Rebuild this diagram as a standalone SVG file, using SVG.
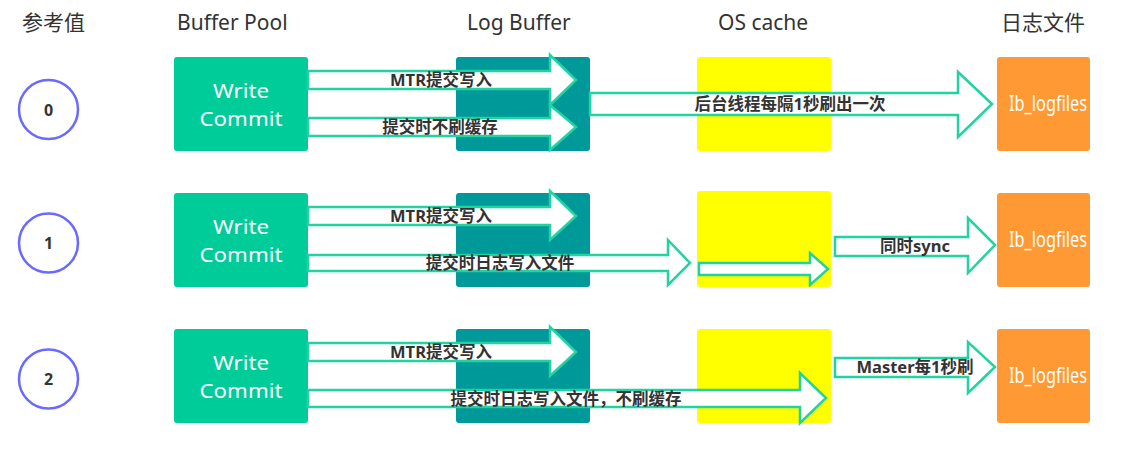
<svg xmlns="http://www.w3.org/2000/svg" width="1145" height="449" viewBox="0 0 1145 449">
<style>
.hdr{font-family:"Noto Sans","Noto Sans CJK SC",sans-serif;font-size:21px;fill:#333}
.wc{fill:#00cc99}
.lb{fill:#009999}
.os{fill:#ffff00}
.lf{fill:#ff9933}
.wt{font-family:"Noto Sans","Noto Sans CJK SC",sans-serif;font-size:20px;fill:#fff;text-anchor:middle}
.lt{font-family:"Noto Sans",sans-serif;font-size:22px;fill:#fff}
.arr{fill:#fff;stroke:#22d3a2;stroke-width:2.5;stroke-linejoin:miter}
.al{font-family:"Noto Sans","Noto Sans CJK SC",sans-serif;font-size:16.5px;font-weight:bold;fill:#333;text-anchor:middle}
.cir{fill:#fff;stroke:#6a6aff;stroke-width:2.5}
.num{font-family:"Noto Sans",sans-serif;font-size:16px;font-weight:bold;fill:#333;text-anchor:middle}
</style>
<rect width="1145" height="449" fill="#fff"/>
<g id="headers">
<text class="hdr" x="22" y="30">参考值</text>
<text class="hdr" x="177" y="30">Buffer Pool</text>
<text class="hdr" x="467" y="30">Log Buffer</text>
<text class="hdr" x="718" y="30">OS cache</text>
<text class="hdr" x="1001" y="30">日志文件</text>
</g>
<g id="level0"><circle class="cir" cx="48.5" cy="109.5" r="29.5"/><text class="num" x="48.5" y="115.5">0</text></g>
<g id="level1"><circle class="cir" cx="48.5" cy="243" r="29.5"/><text class="num" x="48.5" y="249">1</text></g>
<g id="level2"><circle class="cir" cx="48.5" cy="379" r="29.5"/><text class="num" x="48.5" y="385">2</text></g>

<g id="bp0"><rect class="wc" x="174" y="57" width="134" height="94" rx="3"/><text class="wt" x="241" y="98" textLength="56" lengthAdjust="spacingAndGlyphs">Write</text><text class="wt" x="241" y="126" textLength="83" lengthAdjust="spacingAndGlyphs">Commit</text></g>
<g id="bp1"><rect class="wc" x="174" y="193" width="134" height="94" rx="3"/><text class="wt" x="241" y="234" textLength="56" lengthAdjust="spacingAndGlyphs">Write</text><text class="wt" x="241" y="262" textLength="83" lengthAdjust="spacingAndGlyphs">Commit</text></g>
<g id="bp2"><rect class="wc" x="174" y="329" width="134" height="94" rx="3"/><text class="wt" x="241" y="370" textLength="56" lengthAdjust="spacingAndGlyphs">Write</text><text class="wt" x="241" y="398" textLength="83" lengthAdjust="spacingAndGlyphs">Commit</text></g>

<g id="lb0"><rect class="lb" x="456" y="57" width="134" height="94" rx="3"/></g>
<g id="lb1"><rect class="lb" x="456" y="193" width="134" height="94" rx="3"/></g>
<g id="lb2"><rect class="lb" x="456" y="329" width="134" height="94" rx="3"/></g>

<g id="os0"><rect class="os" x="697" y="57" width="134" height="94" rx="3"/></g>
<g id="os1"><rect class="os" x="697" y="191" width="134" height="96" rx="3"/></g>
<g id="os2"><rect class="os" x="697" y="329" width="134" height="94" rx="3"/></g>

<g id="lf0"><rect class="lf" x="997" y="57" width="93" height="94" rx="3"/><text class="lt" x="1009" y="111" textLength="78" lengthAdjust="spacingAndGlyphs">Ib_logfiles</text></g>
<g id="lf1"><rect class="lf" x="997" y="193" width="93" height="94" rx="3"/><text class="lt" x="1009" y="247" textLength="78" lengthAdjust="spacingAndGlyphs">Ib_logfiles</text></g>
<g id="lf2"><rect class="lf" x="997" y="329" width="93" height="94" rx="3"/><text class="lt" x="1009" y="383" textLength="78" lengthAdjust="spacingAndGlyphs">Ib_logfiles</text></g>

<g id="connectors">
<path class="arr" d="M308,71 L550,71 L550,55 L576,80 L550,105 L550,89 L308,89 Z"/>
<text class="al" x="441" y="86">MTR提交写入</text>
<path class="arr" d="M308,118 L550,118 L550,105 L576,127 L550,150 L550,136 L308,136 Z"/>
<text class="al" x="440" y="133">提交时不刷缓存</text>
<path class="arr" d="M590,93 L958,93 L958,72 L992,104 L958,137 L958,115 L590,115 Z"/>
<text class="al" x="790" y="110">后台线程每隔1秒刷出一次</text>

<path class="arr" d="M308,207 L550,207 L550,191 L576,216 L550,240 L550,225 L308,225 Z"/>
<text class="al" x="441" y="222">MTR提交写入</text>
<path class="arr" d="M308,255 L668,255 L668,240 L690,263 L668,285 L668,271 L308,271 Z"/>
<text class="al" x="500" y="269">提交时日志写入文件</text>
<path class="arr" d="M699,263 L810,263 L810,253 L828,269 L810,285 L810,275 L699,275 Z"/>
<path class="arr" d="M835,237 L968,237 L968,218 L995,245 L968,273 L968,256 L835,256 Z"/>
<text class="al" x="915" y="252">同时sync</text>

<path class="arr" d="M308,343 L550,343 L550,327 L576,352 L550,376 L550,361 L308,361 Z"/>
<text class="al" x="441" y="358">MTR提交写入</text>
<path class="arr" d="M308,390 L800,390 L800,373 L826,398 L800,423 L800,407 L308,407 Z"/>
<text class="al" x="566" y="405">提交时日志写入文件，不刷缓存</text>
<path class="arr" d="M835,358 L968,358 L968,342 L995,367 L968,393 L968,377 L835,377 Z"/>
<text class="al" x="915" y="373">Master每1秒刷</text>
</g>
</svg>
